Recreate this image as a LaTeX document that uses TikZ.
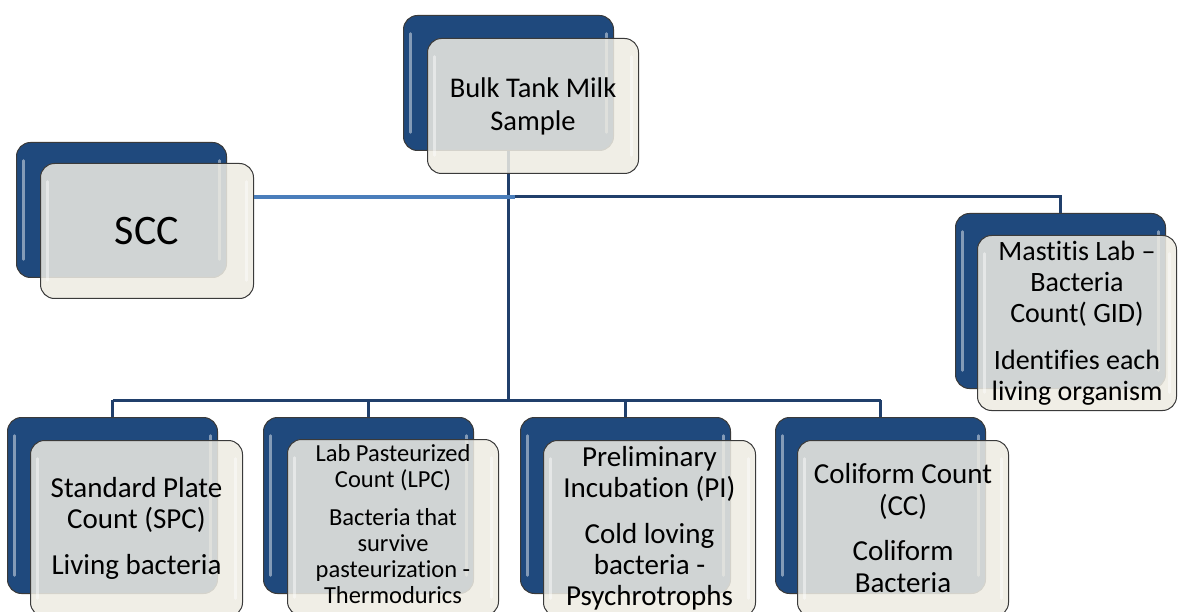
\documentclass[tikz,border=0pt]{standalone}
\usepackage{fontspec}
\setmainfont{Carlito}[Ligatures={NoCommon,NoRare}]
\definecolor{navy}{HTML}{1F497D}
\definecolor{linknavy}{HTML}{203F6B}
\definecolor{linklight}{HTML}{4A7EBB}
\definecolor{cream}{HTML}{EEECE3}
\definecolor{rim}{HTML}{3A3A3A}
\tikzset{
  hilite/.style={path picture={
      \draw[white, opacity=0.45, line width=2.5pt, line cap=round]
        ([xshift=7pt,yshift=-18pt]path picture bounding box.north west) --
        ([xshift=7pt,yshift=18pt]path picture bounding box.south west);
      \draw[white, opacity=0.45, line width=2.5pt, line cap=round]
        ([xshift=-7pt,yshift=-18pt]path picture bounding box.north east) --
        ([xshift=-7pt,yshift=18pt]path picture bounding box.south east);}},
  backbox/.style={draw=rim, line width=1pt, fill=navy, rounded corners=14pt,
      inner sep=0pt, anchor=north west, minimum width=210pt, hilite},
  frontbox/.style={draw=rim, line width=1pt, fill=cream, fill opacity=0.86,
      text opacity=1, rounded corners=14pt, inner sep=0pt, anchor=north west,
      minimum width=211pt, align=center, hilite},
  navyline/.style={draw=linknavy, line width=3pt},
  lightline/.style={draw=linklight, line width=4pt},
}
\begin{document}
\begin{tikzpicture}[x=1pt,y=-1pt]
\clip (0,0) rectangle (1178,612);
\fill[white] (0,0) rectangle (1178,612);
\coordinate (hy) at (0,197);
\coordinate (by) at (0,400);

% back boxes
\node[backbox, minimum height=135pt] (topB) at (403,15) {};
\node[backbox, minimum height=135pt] (sccB) at (16,142) {};
\node[backbox, minimum height=175pt] (mastB) at (955,213) {};
\node[backbox, minimum height=176pt] (spcB) at (7,417) {};
\node[backbox, minimum height=176pt] (lpcB) at (263,417) {};
\node[backbox, minimum height=176pt] (piB) at (520,417) {};
\node[backbox, minimum height=176pt] (ccB) at (775,417) {};

% connectors
\draw[navyline] (topB.south) -- (topB.south |- by);
\draw[navyline] (topB.south |- hy) -- (mastB.north |- hy) -- (mastB.north);
\draw[navyline] (spcB.north |- by) -- (ccB.north |- by);
\draw[navyline] (spcB.north |- by) -- (spcB.north);
\draw[navyline] (lpcB.north |- by) -- (lpcB.north);
\draw[navyline] (piB.north |- by) -- (piB.north);
\draw[navyline] (ccB.north |- by) -- (ccB.north);

% front boxes
\node[frontbox, minimum height=135pt,
  font=\fontsize{28.5}{33}\selectfont] (top) at (427,38)
  {Bulk Tank Milk\\Sample};
\node[frontbox, minimum width=213pt, minimum height=135pt,
  font=\fontsize{42}{48}\selectfont] (scc) at (40,163) {SCC};
\node[frontbox, minimum width=199pt, minimum height=175pt,
  font=\fontsize{28}{31}\selectfont] (mast) at (977,235)
  {Mastitis Lab –\\Bacteria\\Count( GID)\\[16pt]Identifies each\\living organism};
\node[frontbox, minimum width=212pt, minimum height=176pt,
  font=\fontsize{29}{31}\selectfont] (spc) at (30,440)
  {Standard Plate\\Count (SPC)\\[15pt]Living bacteria};
\node[frontbox, minimum height=176pt,
  font=\fontsize{24.5}{26}\selectfont] (lpc) at (287,439)
  {Lab Pasteurized\\Count (LPC)\\[12pt]Bacteria that\\survive\\pasteurization -\\Thermodurics\\[-18pt]\mbox{}};
\node[frontbox, minimum width=212pt, minimum height=176pt,
  font=\fontsize{29}{31}\selectfont] (pi) at (543,440)
  {Preliminary\\Incubation (PI)\\[15pt]Cold loving\\bacteria -\\Psychrotrophs};
\node[frontbox, minimum height=176pt,
  font=\fontsize{29}{32}\selectfont] (cc) at (797,440)
  {Coliform Count\\(CC)\\[13pt]Coliform\\Bacteria};

\draw[lightline] (scc.east |- hy) -- ([xshift=6pt]topB.south |- hy);
\end{tikzpicture}
\end{document}
